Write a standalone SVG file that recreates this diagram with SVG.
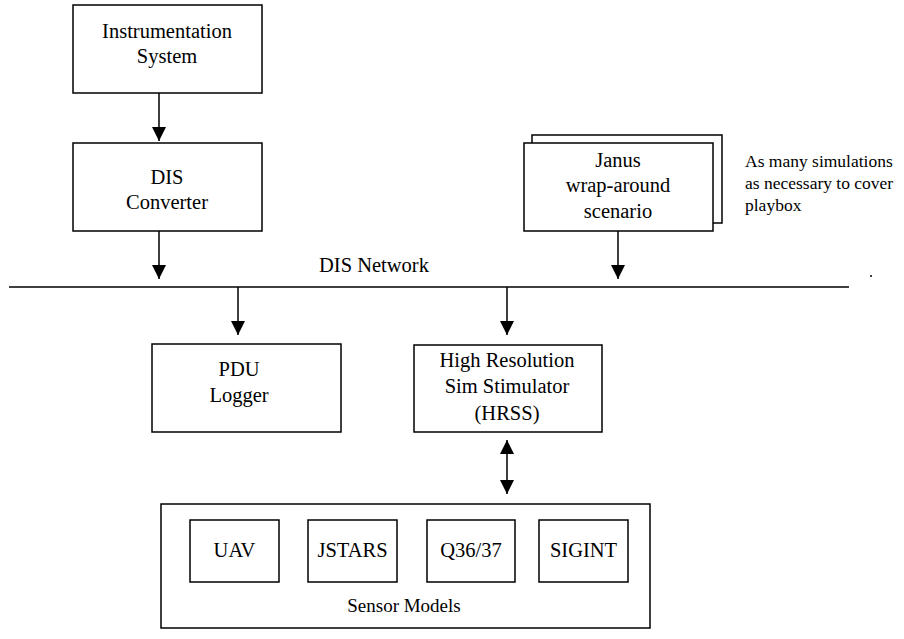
<svg xmlns="http://www.w3.org/2000/svg" width="904" height="639" viewBox="0 0 904 639">
<style>
.box{fill:#fff;stroke:#000;stroke-width:1.5}
text{font-family:'Liberation Serif','Times New Roman','DejaVu Serif',serif;fill:#000}
.t{font-size:20.5px;text-anchor:middle}
.note{font-size:17.5px}
.ln{stroke:#000;stroke-width:1.5;fill:none}
</style>
<defs>
<marker id="ah" markerUnits="userSpaceOnUse" markerWidth="14" markerHeight="16" refX="14" refY="7" orient="auto">
<path d="M0,0 L14,7 L0,14 Z" fill="#000"/>
</marker>
<marker id="ahs" markerUnits="userSpaceOnUse" markerWidth="14" markerHeight="16" refX="0" refY="7" orient="auto">
<path d="M14,0 L0,7 L14,14 Z" fill="#000"/>
</marker>
</defs>
<rect width="904" height="639" fill="#fff"/>
<g id="connectors">
<line class="ln" x1="9" y1="287" x2="849" y2="287"/>
<line class="ln" x1="159" y1="93" x2="159" y2="141" marker-end="url(#ah)"/>
<line class="ln" x1="159" y1="231" x2="159" y2="279" marker-end="url(#ah)"/>
<line class="ln" x1="618" y1="231" x2="618" y2="279" marker-end="url(#ah)"/>
<line class="ln" x1="238" y1="287" x2="238" y2="335" marker-end="url(#ah)"/>
<line class="ln" x1="507" y1="287" x2="507" y2="335" marker-end="url(#ah)"/>
<line class="ln" x1="507" y1="440" x2="507" y2="494" marker-start="url(#ahs)" marker-end="url(#ah)"/>
<circle cx="871" cy="276" r="1" fill="#000"/>
</g>
<g id="instrumentation">
<rect class="box" x="73" y="5" width="189" height="88"/>
<text class="t" x="167" y="38">Instrumentation</text>
<text class="t" x="167" y="63">System</text>
</g>
<g id="dis-converter">
<rect class="box" x="73" y="143" width="189" height="88"/>
<text class="t" x="167" y="184">DIS</text>
<text class="t" x="167" y="209">Converter</text>
</g>
<g id="janus">
<rect class="box" x="532" y="135" width="190" height="88"/>
<rect class="box" x="524" y="143" width="189" height="88"/>
<text class="t" x="618" y="167">Janus</text>
<text class="t" x="618" y="192">wrap-around</text>
<text class="t" x="618" y="218">scenario</text>
</g>
<g id="note">
<text class="note" x="745" y="167">As many simulations</text>
<text class="note" x="745" y="189">as necessary to cover</text>
<text class="note" x="745" y="211">playbox</text>
</g>
<g id="dis-network">
<text class="t" x="374" y="272">DIS Network</text>
</g>
<g id="pdu-logger">
<rect class="box" x="152" y="344" width="189" height="88"/>
<text class="t" x="239" y="376">PDU</text>
<text class="t" x="239" y="402">Logger</text>
</g>
<g id="hrss">
<rect class="box" x="414" y="345" width="188" height="87"/>
<text class="t" x="507" y="367">High Resolution</text>
<text class="t" x="507" y="393">Sim Stimulator</text>
<text class="t" x="507" y="420">(HRSS)</text>
</g>
<g id="sensor-models">
<rect class="box" x="161" y="504" width="489" height="124"/>
<text class="t" x="404" y="612" style="font-size:19px">Sensor Models</text>
</g>
<g id="uav">
<rect class="box" x="190" y="520" width="89" height="62"/>
<text class="t" x="234.5" y="557">UAV</text>
</g>
<g id="jstars">
<rect class="box" x="308" y="520" width="89" height="62"/>
<text class="t" x="352.5" y="557">JSTARS</text>
</g>
<g id="q36-37">
<rect class="box" x="427" y="520" width="88" height="62"/>
<text class="t" x="471" y="557">Q36/37</text>
</g>
<g id="sigint">
<rect class="box" x="539" y="520" width="89" height="62"/>
<text class="t" x="583.5" y="557">SIGINT</text>
</g>
</svg>
